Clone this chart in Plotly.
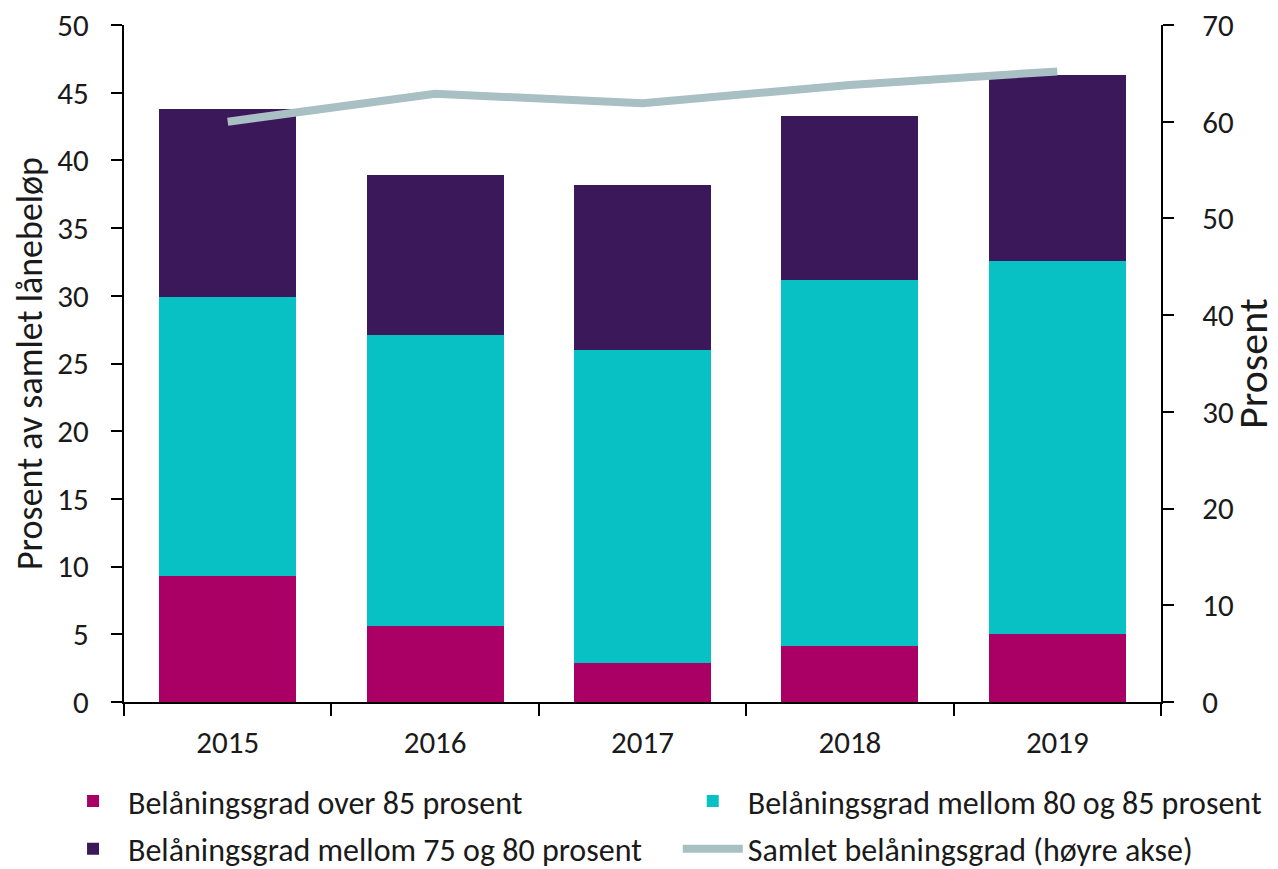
import plotly.graph_objects as go

years = ["2015", "2016", "2017", "2018", "2019"]
over_85 = [9.3, 5.6, 2.9, 4.1, 5.0]
mellom_80_85 = [20.6, 21.5, 23.1, 27.1, 27.6]
mellom_75_80 = [13.9, 11.8, 12.2, 12.1, 13.7]
samlet = [60.0, 62.9, 61.9, 63.8, 65.2]

names = ["Belåningsgrad over 85 prosent",
         "Belåningsgrad mellom 80 og 85 prosent",
         "Belåningsgrad mellom 75 og 80 prosent",
         "Samlet belåningsgrad (høyre akse)"]

FONT = "Carlito, Lato, sans-serif"

fig = go.Figure()
fig.add_trace(go.Bar(x=years, y=over_85, name=names[0], legend="legend", legendgroup="a",
                     marker=dict(color="#AA0066", line=dict(width=0))))
fig.add_trace(go.Bar(x=years, y=mellom_80_85, name=names[1], legend="legend2", legendgroup="b",
                     marker=dict(color="#08C1C4", line=dict(width=0))))
fig.add_trace(go.Bar(x=years, y=mellom_75_80, name=names[2], legend="legend", legendgroup="c",
                     marker=dict(color="#3B1859", line=dict(width=0))))
fig.add_trace(go.Scatter(x=years, y=samlet, name=names[3], yaxis="y2", mode="lines",
                         legend="legend2", legendgroup="d",
                         line=dict(color="#A8BFC4", width=8)))

legend_common = dict(orientation="v", yanchor="top", y=-0.106, xanchor="left",
                     traceorder="grouped", tracegroupgap=3, font=dict(size=32),
                     itemwidth=60, bgcolor="rgba(0,0,0,0)")

TICKF = 31

fig.update_layout(
    width=1270, height=861,
    barmode="stack", bargap=0.34,
    plot_bgcolor="white", paper_bgcolor="white",
    font=dict(family=FONT, size=32, color="#1a1a1a"),
    margin=dict(l=116, r=117, t=17, b=167, autoexpand=False),
    xaxis=dict(showline=True, linecolor="black", linewidth=2, automargin=False,
               ticks="outside", tickson="boundaries", ticklen=12, tickwidth=2, tickcolor="black",
               tickfont=dict(size=TICKF), ticklabelstandoff=12, showgrid=False),
    yaxis=dict(range=[0, 50], dtick=5, showline=True, linecolor="black", linewidth=2, automargin=False,
               ticks="outside", ticklen=11, tickwidth=2, tickcolor="black", ticklabeloverflow="allow",
               tickfont=dict(size=TICKF), ticklabelstandoff=16, showgrid=False, zeroline=False,
               title=dict(text="Prosent av samlet lånebeløp", font=dict(size=36), standoff=8)),
    yaxis2=dict(range=[0, 70], dtick=10, overlaying="y", side="right", automargin=False,
                showline=True, linecolor="black", linewidth=2, ticklabeloverflow="allow",
                ticks="outside", ticklen=11, tickwidth=2, tickcolor="black",
                tickfont=dict(size=TICKF), ticklabelstandoff=22, showgrid=False, zeroline=False,
                title=dict(text="Prosent", font=dict(size=42), standoff=25)),
    legend=dict(x=-0.0636, **legend_common),
    legend2=dict(x=0.534, **legend_common),
    showlegend=True,
)

fig.write_html("out.html")
